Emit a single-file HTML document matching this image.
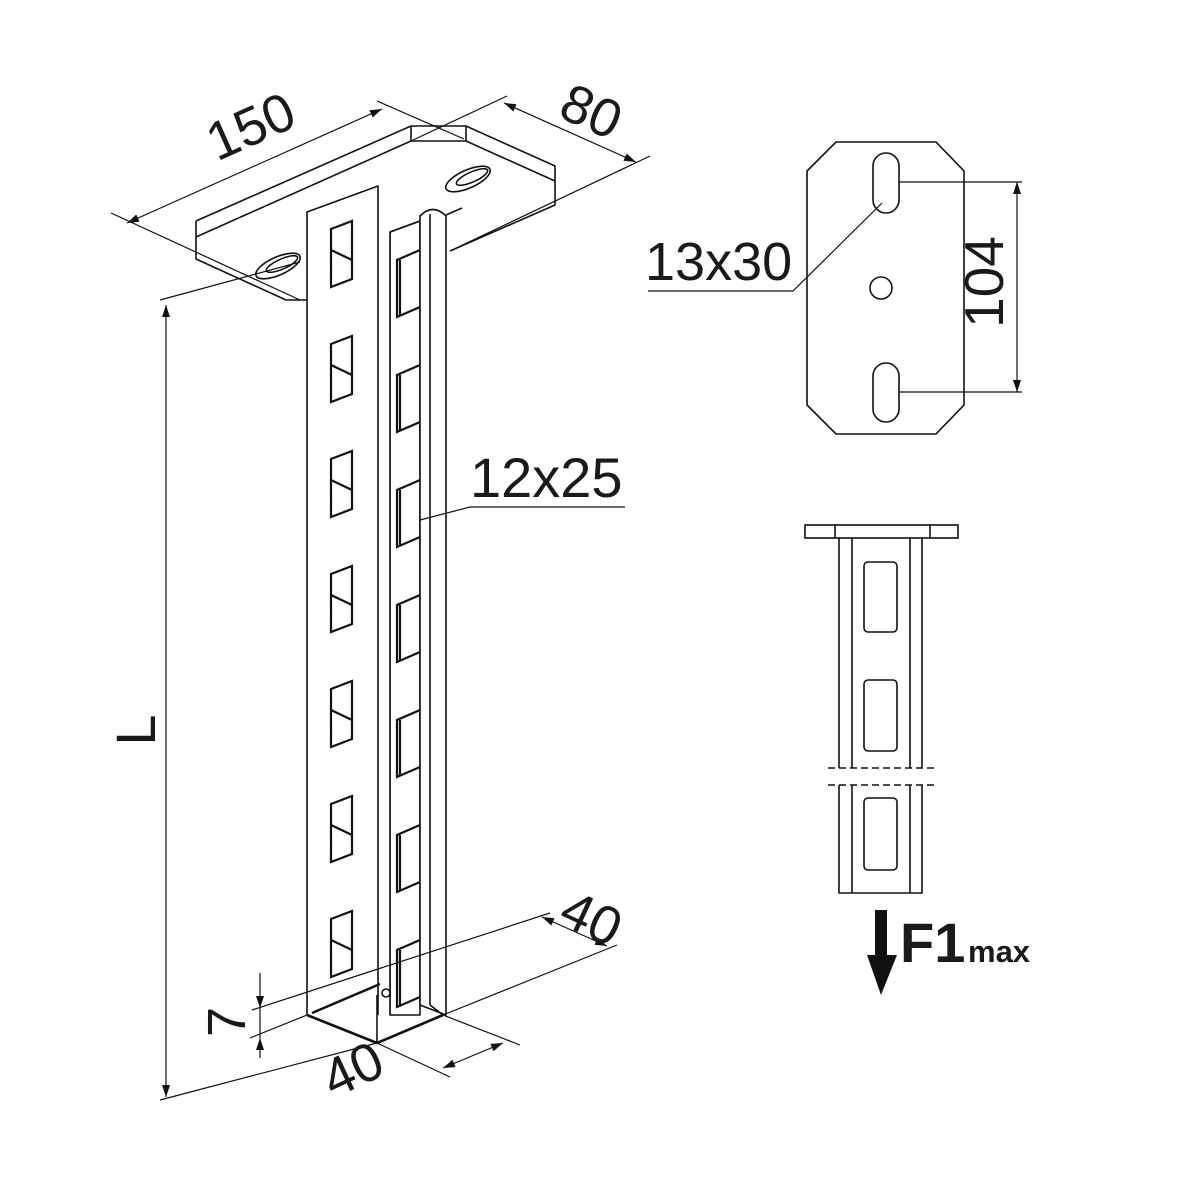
<!DOCTYPE html>
<html><head><meta charset="utf-8"><style>
html,body{margin:0;padding:0;background:#fff}
svg{display:block}
text{font-family:"Liberation Sans",sans-serif;fill:#1a1a1a}
</style></head><body>
<svg width="1200" height="1200" viewBox="0 0 1200 1200" xmlns="http://www.w3.org/2000/svg">
<defs>
<marker id="a" viewBox="0 0 12 8" refX="12" refY="4" markerWidth="12" markerHeight="8" orient="auto-start-reverse" markerUnits="userSpaceOnUse"><path d="M0,0 L12,4 L0,8 z" fill="#111"/></marker>
</defs>
<g fill="none" stroke="#111" stroke-width="1.6" stroke-linejoin="round">
<!-- base plate -->
<path d="M196,221 L196,259 L286,300 L307,300"/>
<path d="M196,221 L411,126 L466,126 L555,166 L555,205 L450,251"/>
<path d="M196,237 L411,141 L466,141 L555,181"/>
<path d="M411,126 L411,141 M466,126 L466,141"/>
<ellipse cx="278" cy="266" rx="24" ry="9" transform="rotate(-24 278 266)"/>
<ellipse cx="282" cy="264" rx="17" ry="5" transform="rotate(-24 282 264)"/>
<ellipse cx="468" cy="179" rx="24" ry="9" transform="rotate(-24 468 179)"/>
<ellipse cx="472" cy="177" rx="17" ry="5" transform="rotate(-24 472 177)"/>
<!-- dimension 150 -->
<line x1="111" y1="213" x2="300" y2="300" stroke-width="1.2"/>
<line x1="377" y1="101" x2="464" y2="139" stroke-width="1.2"/>
<line x1="127" y1="223" x2="382" y2="109" stroke-width="1.2" marker-start="url(#a)" marker-end="url(#a)"/>
<!-- dimension 80 -->
<line x1="507" y1="96" x2="411" y2="141" stroke-width="1.2"/>
<line x1="650" y1="156" x2="450" y2="251" stroke-width="1.2"/>
<line x1="504" y1="103" x2="636" y2="162" stroke-width="1.2" marker-start="url(#a)" marker-end="url(#a)"/>
<!-- column (white filled to hide plate) -->
<path d="M390,1015 L390,232 L420,221 L420,1015 Z" fill="#fff"/>
<path d="M420,1005 L420,216 Q433,203 446,216 L446,1015 Z" fill="#fff"/>
<path d="M307,1015 L307,212 L378,186 L390,190 L390,1015 Z" fill="#fff" stroke="none"/>
<path d="M307,1015 L307,212 L378,186 L378,1015"/>
<path d="M390,1015 L390,232 L420,221"/>
<line x1="430" y1="214" x2="430" y2="1005"/>
<line x1="446" y1="215" x2="462" y2="208"/>
<!-- bottom -->
<path d="M307,1015 L377,1043 L443,1015" stroke-width="2.6"/>
<line x1="377" y1="1043" x2="377" y2="995"/>
<path d="M312,1013 L380,984" stroke-width="2.4"/>
<circle cx="386" cy="993" r="4"/>
<line x1="430" y1="1005" x2="443" y2="1015"/>
</g>
<g fill="none" stroke="#111" stroke-width="2.2">
<g id="fs"><path d="M331,229 L352,221 L352,279 L331,287 Z M331,250 L352,260"/></g>
<use href="#fs" y="115"/><use href="#fs" y="230"/><use href="#fs" y="345"/><use href="#fs" y="460"/><use href="#fs" y="575"/><use href="#fs" y="690"/>
<g id="bs"><path d="M420,250 L397,260 L397,317 L420,307 M400,260 L400,316"/></g>
<use href="#bs" y="115"/><use href="#bs" y="230"/><use href="#bs" y="345"/><use href="#bs" y="460"/><use href="#bs" y="575"/><use href="#bs" y="690"/>
</g>
<g fill="none" stroke="#111" stroke-width="1.2">
<line x1="160" y1="300" x2="300" y2="262"/>
<line x1="166" y1="305" x2="166" y2="1097" marker-start="url(#a)" marker-end="url(#a)"/>
<line x1="160" y1="1100" x2="377" y2="1043"/>
<line x1="252" y1="1010" x2="550" y2="913"/>
<line x1="250" y1="1038" x2="307" y2="1015"/>
<line x1="260" y1="973" x2="260" y2="1008" marker-end="url(#a)"/>
<line x1="260" y1="1058" x2="260" y2="1038" marker-end="url(#a)"/>
<line x1="260" y1="1008" x2="260" y2="1038"/>
<line x1="443" y1="1015" x2="617" y2="945"/>
<line x1="542" y1="917" x2="607" y2="946" marker-start="url(#a)" marker-end="url(#a)"/>
<line x1="377" y1="1043" x2="450" y2="1077"/>
<line x1="443" y1="1015" x2="520" y2="1045"/>
<line x1="443" y1="1068" x2="503" y2="1043" marker-start="url(#a)" marker-end="url(#a)"/>
<polyline points="420,520 470,507 625,507"/>
</g>
<text x="250" y="145" font-size="54" text-anchor="middle" transform="rotate(-24 250 125)">150</text>
<text x="592" y="130" font-size="54" text-anchor="middle" transform="rotate(24 592 110)">80</text>
<text x="155" y="730" font-size="56" text-anchor="middle" transform="rotate(-90 155 730)">L</text>
<text x="245" y="1022" font-size="54" text-anchor="middle" transform="rotate(-90 245 1022)">7</text>
<text x="592" y="937" font-size="54" text-anchor="middle" transform="rotate(25 592 917)">40</text>
<text x="352" y="1088" font-size="54" text-anchor="middle" transform="rotate(-25 352 1068)">40</text>
<text x="470" y="497" font-size="56">12x25</text>
<g fill="none" stroke="#111" stroke-width="1.6">
<path d="M836,142 L936,142 L964,171 L964,405 L936,434 L836,434 L807,405 L807,171 Z"/>
<rect x="873" y="153" width="26" height="60" rx="13"/>
<rect x="873" y="363" width="26" height="59" rx="13"/>
<circle cx="881" cy="288" r="11"/>
</g>
<g fill="none" stroke="#111" stroke-width="1.2">
<line x1="899" y1="182" x2="1022" y2="182"/>
<line x1="899" y1="392" x2="1022" y2="392"/>
<line x1="1017" y1="182" x2="1017" y2="392" marker-start="url(#a)" marker-end="url(#a)"/>
<polyline points="648,291 793,291 882,203"/>
</g>
<text x="645" y="280" font-size="54">13x30</text>
<text x="1003" y="282" font-size="55" text-anchor="middle" transform="rotate(-90 1003 282)">104</text>
<g fill="none" stroke="#111" stroke-width="1.6">
<rect x="805" y="525" width="153" height="13"/>
<line x1="835" y1="525" x2="835" y2="538"/><line x1="930" y1="525" x2="930" y2="538"/>
<path d="M839,538 L839,768 M852,538 L852,768 M910,538 L910,768 M922,538 L922,768"/>
<path d="M839,785 L839,893 L922,893 L922,785 M852,785 L852,893 M910,785 L910,893"/>
<rect x="864" y="562" width="33" height="70" rx="4"/>
<rect x="864" y="680" width="33" height="71" rx="4"/>
<rect x="864" y="798" width="33" height="72" rx="4"/>
<path d="M828,768 L938,768 M828,785 L938,785" stroke-dasharray="7,4"/>
</g>
<path d="M875,910 L887,910 L887,955 L897,955 L881,995 L867,955 L875,955 Z" fill="#111"/>
<text x="900" y="962" font-size="56" font-weight="bold">F1</text>
<text x="968" y="962" font-size="31" font-weight="bold">max</text>
</svg>
</body></html>
